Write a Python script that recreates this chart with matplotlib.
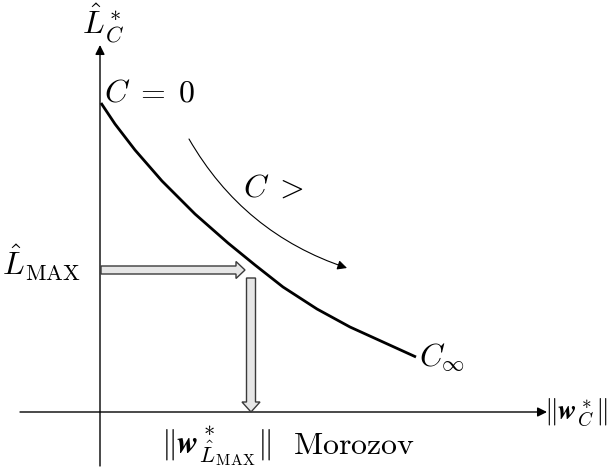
import matplotlib
matplotlib.use("Agg")
import matplotlib.pyplot as plt
from matplotlib.patches import FancyArrow, FancyArrowPatch

plt.rcParams['mathtext.fontset'] = 'cm'
plt.rcParams['font.family'] = 'serif'
plt.rcParams['font.serif'] = ['DejaVu Serif']

# L-curve of the regularised problem (canvas units, y grows downwards)
curve_x = [101, 115, 135, 162, 195, 228, 255, 283, 317, 350, 383, 416]
curve_y = [103, 124, 150, 181, 214, 243, 265, 287, 309, 327, 342, 357]

# chosen level on the loss axis and the matching Morozov norm
lmax_level = 270
morozov_x = 251
curve_hit_x = 245

# axes origin and extents
origin = (100, 412)
x_axis_span = (20, 547)
y_axis_span = (466, 45)

fig = plt.figure(figsize=(6.12, 4.68), dpi=100)
ax = fig.add_axes([0, 0, 1, 1])
ax.set_xlim(0, 612)
ax.set_ylim(468, 0)
ax.axis('off')

axis_kw = dict(arrowstyle='-|>', mutation_scale=14, lw=1.0, color='black',
               shrinkA=0, shrinkB=0)
ax.add_patch(FancyArrowPatch((x_axis_span[0], origin[1]), (x_axis_span[1], origin[1]), **axis_kw))
ax.add_patch(FancyArrowPatch((origin[0], y_axis_span[0]), (origin[0], y_axis_span[1]), **axis_kw))

ax.plot(curve_x, curve_y, color='black', lw=2.0, solid_capstyle='butt',
        solid_joinstyle='round')

# direction of increasing C
ax.add_patch(FancyArrowPatch((189, 139), (347, 268), connectionstyle='arc3,rad=0.19',
                             arrowstyle='-|>', mutation_scale=14, lw=0.8,
                             color='black', shrinkA=0, shrinkB=0))

block_kw = dict(length_includes_head=True, fc='#e6e6e6', ec='#3a3a3a', lw=1.0)
ax.add_patch(FancyArrow(origin[0] + 1, lmax_level, curve_hit_x - origin[0] - 1, 0,
                        width=8, head_width=17, head_length=9, **block_kw))
ax.add_patch(FancyArrow(morozov_x, lmax_level + 8, 0, origin[1] - lmax_level - 8,
                        width=9, head_width=18, head_length=10, **block_kw))

fs = 23
ax.text(103, 23, r'$\hat{L}^*_C$', fontsize=fs, ha='center', va='center')
ax.text(104, 93, r'$C\;=\;0$', fontsize=fs, ha='left', va='center')
ax.text(273, 188, r'$C\;>$', fontsize=fs, ha='center', va='center')
ax.text(2, 263, r'$\hat{L}_{\mathrm{MAX}}$', fontsize=fs, ha='left', va='center')
ax.text(419, 357, r'$C_\infty$', fontsize=fs, ha='left', va='center')
ax.text(608, 412, r'$\|\boldsymbol{w}^*_C\|$', fontsize=20, ha='right', va='center')
ax.text(216, 446, r'$\|\boldsymbol{w}^*_{\hat{L}_{\mathrm{MAX}}}\|$', fontsize=fs,
        ha='center', va='center')
ax.text(293, 446, r'$\mathrm{Morozov}$', fontsize=fs, ha='left', va='center')

fig.savefig('out.png', dpi=100)
